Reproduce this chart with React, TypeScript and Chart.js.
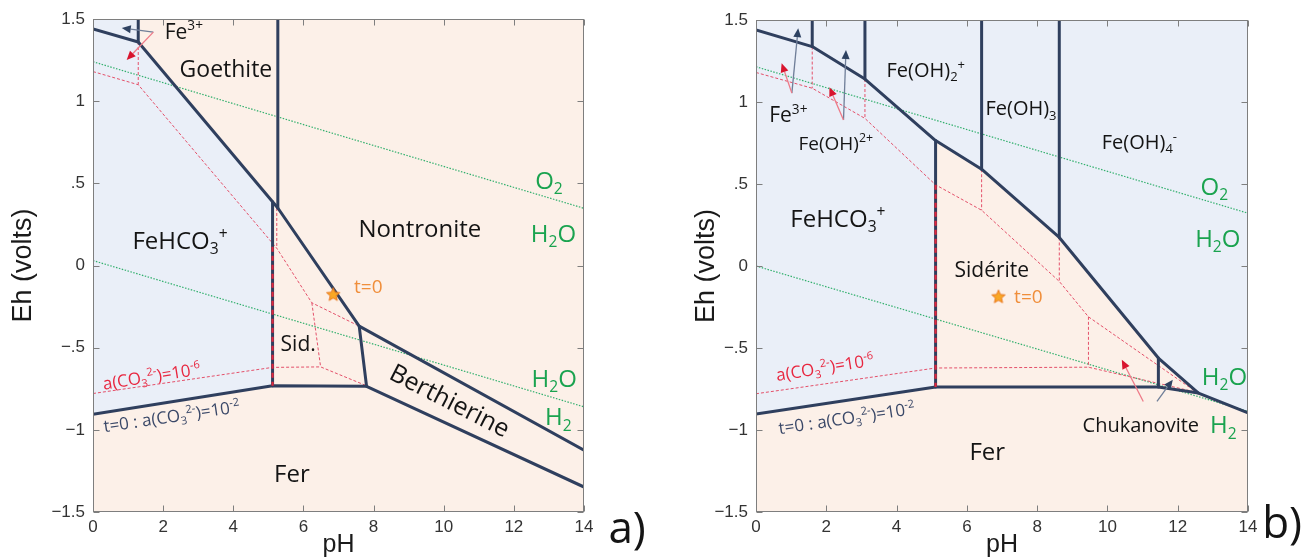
import React, { useEffect, useRef } from 'react';
import { Chart, registerables } from 'chart.js';

Chart.register(...registerables);

type P = [number, number];

// ---------------- axes ----------------
const xTickValues = [0, 2, 4, 6, 8, 10, 12, 14];
const yTickValues = [-1.5, -1, -0.5, 0, 0.5, 1, 1.5];
const yTickLabels = ['−1.5', '−1', '−.5', '0', '.5', '1', '1.5'];
const xTitle = 'pH';
const yTitle = 'Eh (volts)';

// ---------------- panel a : data (pH, Eh) ----------------
const aUpperBoundary: P[] = [[0, 1.44], [1.29, 1.36], [5.27, 0.35], [7.59, -0.369], [14, -1.124]];
const aLowerBoundary: P[] = [[0, -0.905], [5.12, -0.732], [7.8, -0.735], [14, -1.348]];
const aFe3Goethite: P[] = [[1.29, 1.5], [1.29, 1.36]];
const aGoethiteNontronite: P[] = [[5.27, 1.5], [5.27, 0.35]];
const aAqueousSiderite: P[] = [[5.12, 0.388], [5.12, -0.732]];
const aSideriteBerthierine: P[] = [[7.59, -0.369], [7.8, -0.735]];
const aLowCarbUpper: P[] = [[0, 1.18], [1.29, 1.1], [5.24, 0.105], [6.24, -0.227], [7.59, -0.369]];
const aLowCarbLower: P[] = [[0, -0.779], [5.12, -0.62], [6.49, -0.617], [7.78, -0.73]];
const aLowCarbV1: P[] = [[1.29, 1.36], [1.29, 1.1]];
const aLowCarbV2: P[] = [[5.24, 0.35], [5.24, 0.105]];
const aLowCarbV3: P[] = [[6.24, -0.227], [6.49, -0.617]];
const aLowCarbSideriteEdge: P[] = [[5.12, 0.114], [5.12, -0.732]];
const aO2Line: P[] = [[0, 1.24], [14, 0.348]];
const aH2Line: P[] = [[0, 0.03], [14, -0.86]];
const aStart: P[] = [[6.85, -0.175]];
const aAqueousFe3: P[] = [[0, 1.5], [1.29, 1.5], [1.29, 1.36], [0, 1.44]];
const aAqueousFeHCO3: P[] = [[0, 1.44], [1.29, 1.36], [5.12, 0.388], [5.12, -0.732], [0, -0.905]];

// ---------------- panel b : data (pH, Eh) ----------------
const bUpperBoundary: P[] = [[0, 1.44], [1.6, 1.338], [3.1, 1.14], [5.11, 0.765], [6.42, 0.59], [8.63, 0.174], [11.45, -0.561], [12.59, -0.775], [14, -0.896]];
const bLowerBoundary: P[] = [[0, -0.903], [5.11, -0.738], [11.45, -0.738], [12.59, -0.775]];
const bFe3FeOH2: P[] = [[1.6, 1.5], [1.6, 1.338]];
const bFeOH2FeOH2p: P[] = [[3.1, 1.5], [3.1, 1.14]];
const bFeOH2pFeOH3: P[] = [[6.42, 1.5], [6.42, 0.59]];
const bFeOH3FeOH4: P[] = [[8.63, 1.5], [8.63, 0.174]];
const bAqueousSiderite: P[] = [[5.11, 0.765], [5.11, -0.738]];
const bSideriteChukanovite: P[] = [[11.45, -0.561], [11.45, -0.738]];
const bLowCarbUpper: P[] = [[0, 1.18], [1.6, 1.084], [3.1, 0.9], [5.11, 0.495], [6.42, 0.34], [8.63, -0.094], [9.46, -0.31], [12.54, -0.77]];
const bLowCarbLower: P[] = [[0, -0.779], [5.11, -0.622], [9.46, -0.617], [12.54, -0.77]];
const bLowCarbV1: P[] = [[1.6, 1.338], [1.6, 1.084]];
const bLowCarbV2: P[] = [[3.1, 1.14], [3.1, 0.9]];
const bLowCarbV3: P[] = [[6.42, 0.59], [6.42, 0.34]];
const bLowCarbV4: P[] = [[8.63, 0.174], [8.63, -0.094]];
const bLowCarbV5: P[] = [[9.46, -0.31], [9.46, -0.617]];
const bLowCarbSideriteEdge: P[] = [[5.11, 0.495], [5.11, -0.738]];
const bO2Line: P[] = [[0, 1.215], [14, 0.322]];
const bH2Line: P[] = [[0, 0.0], [14, -0.886]];
const bStart: P[] = [[6.9, -0.186]];
const bSolidRegion: P[] = [[0, -1.5], [0, -0.903], [5.11, -0.738], [5.11, 0.765], [6.42, 0.59], [8.63, 0.174], [11.45, -0.561], [12.59, -0.775], [14, -0.896], [14, -1.5]];

// ---------------- styles ----------------
const NAVY = '#2F3F5E';
const RED_DASH = '#E4506A';
const GREEN_DOT = '#33B06E';
const GREEN_TXT = '#1AA34F';
const ORANGE_TXT = '#F08E3A';
const RED_TXT = '#E8263F';
const NAVY_TXT = '#3A4868';
const BLACK = '#141414';
const BLUE_BG = '#EAEFF8';
const PEACH_BG = '#FCF0E8';
const LABEL_FONT = '"Open Sans", "Noto Sans", sans-serif';
const AXIS_FONT = '"Liberation Sans", Arial, sans-serif';

type Label = { text: string; at: P; size: number; color?: string; angle?: number };
type Arrow = { from: P; to: P; kind: 'navy' | 'red' };

const aLabels: Label[] = [
  { text: 'Fe^{3+}', at: [2.59, 1.425], size: 21 },
  { text: 'Goethite', at: [3.79, 1.2], size: 23 },
  { text: 'FeHCO_3^+', at: [2.48, 0.155], size: 24 },
  { text: 'Nontronite', at: [9.32, 0.227], size: 24 },
  { text: 'O_2', at: [13.0, 0.52], size: 24, color: GREEN_TXT },
  { text: 'H_2O', at: [13.13, 0.196], size: 24, color: GREEN_TXT },
  { text: 't=0', at: [7.85, -0.129], size: 19, color: ORANGE_TXT },
  { text: 'Sid.', at: [5.85, -0.474], size: 21 },
  { text: 'H_2O', at: [13.15, -0.687], size: 24, color: GREEN_TXT },
  { text: 'H_2', at: [13.27, -0.921], size: 24, color: GREEN_TXT },
  { text: 'Berthierine', at: [10.18, -0.819], size: 25, angle: 27 },
  { text: 'Fer', at: [5.67, -1.266], size: 24 },
  { text: 'a(CO_3^{2-})=10^{-6}', at: [1.67, -0.673], size: 17, color: RED_TXT, angle: -9 },
  { text: 't=0 : a(CO_3^{2-})=10^{-2}', at: [2.24, -0.917], size: 17, color: NAVY_TXT, angle: -8.5 },
  { text: 'a)', at: [15.23, -1.593], size: 44 },
];
const aArrows: Arrow[] = [
  { from: [1.72, 1.42], to: [0.82, 1.445], kind: 'navy' },
  { from: [1.72, 1.42], to: [0.96, 1.25], kind: 'red' },
];

const bLabels: Label[] = [
  { text: 'Fe(OH)_2^+', at: [4.83, 1.196], size: 20 },
  { text: 'Fe(OH)_3', at: [7.54, 0.962], size: 20 },
  { text: 'Fe(OH)_4^-', at: [10.91, 0.759], size: 20 },
  { text: 'O_2', at: [13.04, 0.484], size: 24, color: GREEN_TXT },
  { text: 'H_2O', at: [13.14, 0.17], size: 24, color: GREEN_TXT },
  { text: 'Fe^{3+}', at: [0.92, 0.921], size: 21 },
  { text: 'Fe(OH)^{2+}', at: [2.27, 0.749], size: 19 },
  { text: 'FeHCO_3^+', at: [2.33, 0.292], size: 24 },
  { text: 'Sidérite', at: [6.71, -0.023], size: 21 },
  { text: 't=0', at: [7.75, -0.186], size: 19, color: ORANGE_TXT },
  { text: 'H_2O', at: [13.33, -0.673], size: 24, color: GREEN_TXT },
  { text: 'H_2', at: [13.3, -0.968], size: 24, color: GREEN_TXT },
  { text: 'Chukanovite', at: [10.95, -0.968], size: 20 },
  { text: 'Fer', at: [6.58, -1.132], size: 24 },
  { text: 'a(CO_3^{2-})=10^{-6}', at: [1.96, -0.617], size: 17, color: RED_TXT, angle: -9 },
  { text: 't=0 : a(CO_3^{2-})=10^{-2}', at: [2.58, -0.927], size: 17, color: NAVY_TXT, angle: -8.5 },
  { text: 'b)', at: [14.97, -1.565], size: 44 },
];
const bArrows: Arrow[] = [
  { from: [1.02, 1.054], to: [1.2, 1.45], kind: 'navy' },
  { from: [1.02, 1.054], to: [0.73, 1.236], kind: 'red' },
  { from: [2.49, 0.89], to: [2.56, 1.317], kind: 'navy' },
  { from: [2.49, 0.89], to: [2.09, 1.09], kind: 'red' },
  { from: [11.02, -0.826], to: [10.41, -0.572], kind: 'red' },
  { from: [11.41, -0.826], to: [11.86, -0.693], kind: 'navy' },
];

type Panel = {
  background: string;
  regions: { pts: P[]; color: string }[];
  boundaries: P[][];
  lowCarb: P[][];
  overlay: P[][];
  water: P[][];
  start: P[];
  labels: Label[];
  arrows: Arrow[];
  left: number;
  width: number;
  yAxisWidth: number;
  padRight: number;
  padTop: number;
  xAxisHeight: number;
  yTitlePad: number;
};

const panelA: Panel = {
  background: PEACH_BG,
  regions: [{ pts: aAqueousFe3, color: BLUE_BG }, { pts: aAqueousFeHCO3, color: BLUE_BG }],
  boundaries: [aUpperBoundary, aLowerBoundary, aFe3Goethite, aGoethiteNontronite, aAqueousSiderite, aSideriteBerthierine],
  lowCarb: [aLowCarbUpper, aLowCarbLower, aLowCarbV1, aLowCarbV2, aLowCarbV3],
  overlay: [aLowCarbSideriteEdge],
  water: [aO2Line, aH2Line],
  start: aStart,
  labels: aLabels,
  arrows: aArrows,
  left: 0,
  width: 654,
  yAxisWidth: 93,
  padRight: 70,
  padTop: 19,
  xAxisHeight: 48,
  yTitlePad: 7,
};

const panelB: Panel = {
  background: BLUE_BG,
  regions: [{ pts: bSolidRegion, color: PEACH_BG }],
  boundaries: [bUpperBoundary, bLowerBoundary, bFe3FeOH2, bFeOH2FeOH2p, bFeOH2pFeOH3, bFeOH3FeOH4, bAqueousSiderite, bSideriteChukanovite],
  lowCarb: [bLowCarbUpper, bLowCarbLower, bLowCarbV1, bLowCarbV2, bLowCarbV3, bLowCarbV4, bLowCarbV5],
  overlay: [bLowCarbSideriteEdge],
  water: [bO2Line, bH2Line],
  start: bStart,
  labels: bLabels,
  arrows: bArrows,
  left: 654,
  width: 655,
  yAxisWidth: 102,
  padRight: 61,
  padTop: 20,
  xAxisHeight: 48,
  yTitlePad: 36,
};

const HEIGHT = 560;

// ---------------- helpers ----------------
const toXY = (arr: P[]) => arr.map(([x, y]) => ({ x, y }));

function makeStar(size: number) {
  const c = document.createElement('canvas');
  c.width = size;
  c.height = size;
  const g = c.getContext('2d')!;
  const cx = size / 2, cy = size / 2 + 0.5, R = size / 2 - 1, r = R * 0.45;
  g.beginPath();
  for (let i = 0; i < 10; i++) {
    const a = -Math.PI / 2 + (i * Math.PI) / 5;
    const rad = i % 2 === 0 ? R : r;
    g.lineTo(cx + rad * Math.cos(a), cy + rad * Math.sin(a));
  }
  g.closePath();
  g.fillStyle = '#F9A825';
  g.fill();
  g.strokeStyle = '#E9771C';
  g.lineWidth = 1;
  g.stroke();
  return c;
}

type Part = { t: string; mode: 0 | 1 | -1 };
function parseRich(s: string): Part[] {
  const parts: Part[] = [];
  let buf = '';
  let i = 0;
  const flush = () => {
    if (buf) { parts.push({ t: buf, mode: 0 }); buf = ''; }
  };
  while (i < s.length) {
    const c = s[i];
    if (c === '_' || c === '^') {
      flush();
      let t: string;
      if (s[i + 1] === '{') {
        const j = s.indexOf('}', i + 2);
        t = s.slice(i + 2, j);
        i = j + 1;
      } else {
        t = s[i + 1];
        i += 2;
      }
      parts.push({ t, mode: c === '_' ? 1 : -1 });
    } else {
      buf += c;
      i++;
    }
  }
  flush();
  return parts;
}

function drawRich(ctx: CanvasRenderingContext2D, text: string, x: number, y: number, size: number, color: string, angle: number) {
  const parts = parseRich(text);
  const small = size * 0.65;
  ctx.save();
  ctx.translate(x, y);
  ctx.rotate((angle * Math.PI) / 180);
  ctx.fillStyle = color;
  ctx.textBaseline = 'alphabetic';
  ctx.textAlign = 'left';
  const widths = parts.map((p) => {
    ctx.font = `${p.mode ? small : size}px ${LABEL_FONT}`;
    return ctx.measureText(p.t).width;
  });
  const total = widths.reduce((a, b) => a + b, 0);
  let cx = -total / 2;
  const base = size * 0.357;
  parts.forEach((p, k) => {
    ctx.font = `${p.mode ? small : size}px ${LABEL_FONT}`;
    const dy = p.mode === 1 ? size * 0.22 : p.mode === -1 ? -size * 0.4 : 0;
    ctx.fillText(p.t, cx, base + dy);
    cx += widths[k];
  });
  ctx.restore();
}

function drawArrow(ctx: CanvasRenderingContext2D, x1: number, y1: number, x2: number, y2: number, kind: 'navy' | 'red') {
  const lineColor = kind === 'navy' ? '#6F7E98' : '#EE7A88';
  const headColor = kind === 'navy' ? '#2E4262' : '#D8142E';
  const ang = Math.atan2(y2 - y1, x2 - x1);
  const hl = 9, hw = 4;
  const bx = x2 - hl * Math.cos(ang), by = y2 - hl * Math.sin(ang);
  ctx.save();
  ctx.strokeStyle = lineColor;
  ctx.lineWidth = 1.3;
  ctx.beginPath();
  ctx.moveTo(x1, y1);
  ctx.lineTo(bx, by);
  ctx.stroke();
  ctx.fillStyle = headColor;
  ctx.beginPath();
  ctx.moveTo(x2, y2);
  ctx.lineTo(bx + hw * Math.sin(ang), by - hw * Math.cos(ang));
  ctx.lineTo(bx - hw * Math.sin(ang), by + hw * Math.cos(ang));
  ctx.closePath();
  ctx.fill();
  ctx.restore();
}

function buildConfig(p: Panel): any {
  const datasets: any[] = [];
  p.regions.forEach((r) => datasets.push({
    data: toXY(r.pts), borderWidth: 0, borderColor: 'rgba(0,0,0,0)', backgroundColor: r.color,
    fill: 'shape', pointRadius: 0, order: 6,
  }));
  p.water.forEach((w) => datasets.push({
    data: toXY(w), borderColor: GREEN_DOT, borderWidth: 1.2, borderDash: [1.5, 1.5], pointRadius: 0, fill: false, order: 5,
  }));
  p.lowCarb.forEach((w) => datasets.push({
    data: toXY(w), borderColor: RED_DASH, borderWidth: 1, borderDash: [3, 2], pointRadius: 0, fill: false, order: 4,
  }));
  p.boundaries.forEach((w) => datasets.push({
    data: toXY(w), borderColor: NAVY, borderWidth: 3, pointRadius: 0, fill: false, order: 3,
    borderJoinStyle: 'round', borderCapStyle: 'round',
  }));
  p.overlay.forEach((w) => datasets.push({
    data: toXY(w), borderColor: '#E0283E', borderWidth: 2.2, borderDash: [5, 4], pointRadius: 0, fill: false, order: 2,
  }));
  datasets.push({
    data: toXY(p.start), showLine: false, pointRadius: 8, pointStyle: makeStar(16), order: 1,
  });

  const decor = {
    id: 'decor' + p.left,
    beforeDraw(chart: any) {
      const { ctx, chartArea: a } = chart;
      ctx.save();
      ctx.fillStyle = '#ffffff';
      ctx.fillRect(0, 0, chart.width, chart.height);
      ctx.fillStyle = p.background;
      ctx.fillRect(a.left, a.top, a.right - a.left, a.bottom - a.top);
      ctx.restore();
    },
    afterDraw(chart: any) {
      const { ctx, chartArea: a } = chart;
      const xs = chart.scales.x, ys = chart.scales.y;
      ctx.save();
      ctx.strokeStyle = '#7E7E7E';
      ctx.lineWidth = 1;
      const L = Math.round(a.left) + 0.5, R = Math.round(a.right) - 0.5;
      const T = Math.round(a.top) + 0.5, B = Math.round(a.bottom) - 0.5;
      ctx.strokeRect(L, T, R - L, B - T);
      ctx.beginPath();
      xTickValues.forEach((v) => {
        const px = Math.round(xs.getPixelForValue(v)) + 0.5;
        ctx.moveTo(px, B); ctx.lineTo(px, B - 6);
        ctx.moveTo(px, T); ctx.lineTo(px, T + 6);
      });
      yTickValues.forEach((v) => {
        const py = Math.round(ys.getPixelForValue(v)) + 0.5;
        ctx.moveTo(L, py); ctx.lineTo(L + 6, py);
        ctx.moveTo(R, py); ctx.lineTo(R - 6, py);
      });
      ctx.stroke();
      ctx.restore();
      p.arrows.forEach((ar) => {
        drawArrow(ctx, xs.getPixelForValue(ar.from[0]), ys.getPixelForValue(ar.from[1]),
          xs.getPixelForValue(ar.to[0]), ys.getPixelForValue(ar.to[1]), ar.kind);
      });
      p.labels.forEach((lb) => {
        drawRich(ctx, lb.text, xs.getPixelForValue(lb.at[0]), ys.getPixelForValue(lb.at[1]),
          lb.size, lb.color || BLACK, lb.angle || 0);
      });
    },
  };

  return {
    type: 'line',
    data: { datasets },
    options: {
      animation: false,
      responsive: false,
      devicePixelRatio: 1,
      events: [],
      parsing: true,
      layout: { padding: { left: 0, right: p.padRight, top: p.padTop, bottom: 0 } },
      plugins: { legend: { display: false }, tooltip: { enabled: false } },
      elements: { line: { tension: 0 } },
      scales: {
        x: {
          type: 'linear', min: 0, max: 14,
          grid: { display: false, drawTicks: false },
          border: { display: false },
          ticks: {
            stepSize: 2, autoSkip: false, padding: 5, maxRotation: 0,
            color: '#333333', font: { family: AXIS_FONT, size: 17 },
          },
          title: { display: true, text: xTitle, color: '#1a1a1a', font: { family: AXIS_FONT, size: 25 }, padding: { top: 0, bottom: 0 } },
          afterFit: (s: any) => { s.height = p.xAxisHeight; },
        },
        y: {
          type: 'linear', min: -1.5, max: 1.5,
          grid: { display: false, drawTicks: false },
          border: { display: false },
          ticks: {
            stepSize: 0.5, autoSkip: false, padding: 8,
            color: '#333333', font: { family: AXIS_FONT, size: 17 },
            callback: (v: number) => {
              const i = yTickValues.findIndex((t) => Math.abs(t - v) < 1e-6);
              return i >= 0 ? yTickLabels[i] : '';
            },
          },
          title: { display: true, text: yTitle, color: '#1a1a1a', font: { family: AXIS_FONT, size: 27 }, padding: { top: p.yTitlePad, bottom: 0 } },
          afterFit: (s: any) => { s.width = p.yAxisWidth; },
        },
      },
    },
    plugins: [decor],
  };
}

function PanelChart({ panel }: { panel: Panel }) {
  const ref = useRef<HTMLCanvasElement>(null);
  useEffect(() => {
    const chart = new Chart(ref.current!, buildConfig(panel));
    return () => chart.destroy();
  }, [panel]);
  return (
    <canvas
      ref={ref}
      width={panel.width}
      height={HEIGHT}
      style={{ position: 'absolute', left: panel.left, top: 0, width: panel.width, height: HEIGHT }}
    />
  );
}

export default function App() {
  return (
    <div style={{ position: 'fixed', left: 0, top: 0, width: 1309, height: HEIGHT, background: '#ffffff', overflow: 'hidden' }}>
      <PanelChart panel={panelA} />
      <PanelChart panel={panelB} />
    </div>
  );
}
